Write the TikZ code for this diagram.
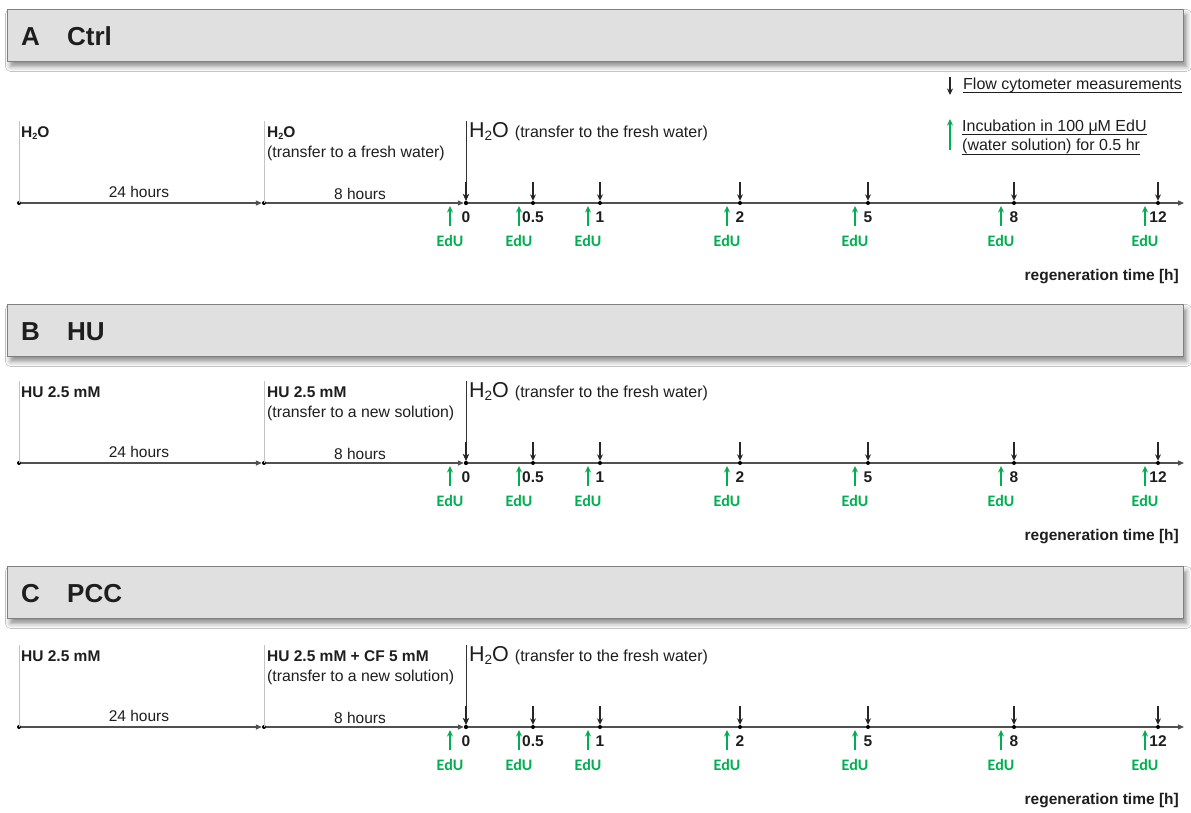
\documentclass[tikz,border=0pt]{standalone}
\usepackage{fontspec}
\setmainfont{Liberation Sans}
\newfontfamily\edufont{Carlito}
\usetikzlibrary{arrows.meta,shadows.blur}
\definecolor{edugreen}{RGB}{0,176,80}
\definecolor{hdrfill}{RGB}{224,224,224}
\definecolor{hdrline}{RGB}{128,128,128}
\definecolor{axisgray}{RGB}{80,80,80}
\definecolor{vgray}{RGB}{195,195,195}
\definecolor{txt}{RGB}{30,30,30}
\newcommand\lowtwo[1]{\raisebox{-0.3ex}{\fontsize{#1}{#1}\selectfont 2}}

\tikzset{
  header/.style={draw=hdrline, fill=hdrfill, line width=0.9pt, minimum width=1176pt, minimum height=52pt, anchor=north west, inner sep=0,
    blur shadow={shadow xshift=3pt, shadow yshift=-5pt, shadow blur radius=5pt, shadow opacity=45}},
  hdrtext/.style={font=\fontsize{26}{30}\selectfont\bfseries, text=txt, anchor=base west, inner sep=0},
  lbl/.style={font=\fontsize{15.8}{18}\selectfont, text=txt, anchor=base west, inner sep=0},
  blbl/.style={font=\fontsize{15.5}{18}\selectfont\bfseries, text=txt, anchor=base west, inner sep=0},
  leg/.style={font=\fontsize{16}{18}\selectfont, text=txt, anchor=base west, inner sep=0},
  dur/.style={font=\fontsize{15.5}{18}\selectfont, text=txt, inner sep=0},
  num/.style={font=\fontsize{15.5}{18}\selectfont\bfseries, text=txt, inner sep=0},
  edu/.style={font=\edufont\fontsize{16}{18}\selectfont\bfseries, text=edugreen, inner sep=0},
  tdot/.style={circle, fill=black, minimum size=4pt, inner sep=0},
  axisln/.style={draw=axisgray, line width=1.2pt, -{Triangle[length=6pt,width=5pt]}},
  vline/.style={draw=vgray, line width=0.8pt},
  zeroline/.style={draw=black!80, line width=0.9pt, -{Stealth[length=7pt,width=6pt]}},
  measarr/.style={draw=black!85, line width=1.2pt, -{Stealth[length=6.5pt,width=6pt]}},
  edarr/.style={draw=edugreen, line width=1.1pt, -{Stealth[length=6.5pt,width=6pt]}},
  ulin/.style={draw=txt, line width=0.9pt},
  regt/.style={font=\fontsize{15.5}{18}\selectfont\bfseries, text=txt, anchor=east, inner sep=0},
}

\newcommand\timeline[5]{%
\begin{scope}[shift={(0,#2)}]
  \node[tdot] (#1a) at (19,0) {};
  \node[tdot] (#1b) at (264,0) {};
  \node[tdot] (#1c) at (466,0) {};
  \coordinate (#1z) at (1184,0);
  \coordinate (#1lt) at (19,-82);
  \coordinate (#1mt) at (264,-82);
  \coordinate (#1rt) at (466,-82);
  \draw[vline] (#1lt) -- (#1a.center);
  \draw[vline] (#1mt) -- (#1b.center);
  \draw[axisln] (#1a) -- (#1b);
  \draw[axisln] (#1b) -- (#1c);
  \draw[axisln] (#1c) -- (#1z);
  \draw[zeroline] (#1rt) -- (#1c);
  \foreach \x/\lab/\g [count=\i] in {466/0/450, 533/0.5/519, 600/1/588, 740/2/727, 868/5/855, 1014/8/1001, 1158/12/1145}{
     \node[tdot] (#1p\i) at (\x,0) {};
     \coordinate (#1q\i) at (\x,-21);
     \draw[measarr] (#1q\i) -- (#1p\i);
     \node[num] (#1n\i) at (\x,14) {\lab};
     \node[edu] (#1e\i) at (\g,38) {EdU};
     \coordinate (#1gb\i) at (\g,23);
     \coordinate (#1gt\i) at (\g,3);
     \draw[edarr] (#1gb\i) -- (#1gt\i);
  }
  \node[blbl] (#1l1) at (21,-66) {#3};
  \node[blbl] (#1l2) at (267,-66) {#4};
  \node[lbl] (#1l3) at (267,-46) {#5};
  \node[lbl] (#1l4) at (469,-66) {{\fontsize{21.5}{24}\selectfont H\lowtwo{13.5}O}\hspace{6pt}{\fontsize{16}{18}\selectfont(transfer to the fresh water)}};
  \node[dur] (#1d1) at (139,-11) {24 hours};
  \node[dur] (#1d2) at (360,-9) {8 hours};
  \node[regt] (#1r) at (1179,74) {regeneration time [h]};
\end{scope}}

\begin{document}
\begin{tikzpicture}[x=1pt,y=-1pt]
  \fill[white] (0,0) rectangle (1191,812);
  \useasboundingbox (0,0) rectangle (1191,812);

  % headers
  \node[header] (hA) at (7,9) {};
  \node[hdrtext] (hAl) at (21,45) {A};
  \node[hdrtext] (hAt) at (67,45) {Ctrl};
  \node[header] (hB) at (7,304) {};
  \node[hdrtext] (hBl) at (21,340) {B};
  \node[hdrtext] (hBt) at (67,340) {HU};
  \node[header] (hC) at (7,566) {};
  \node[hdrtext] (hCl) at (21,602) {C};
  \node[hdrtext] (hCt) at (67,602) {PCC};

  % legend
  \coordinate (lgq) at (950,77);
  \coordinate (lgp) at (950,95);
  \draw[measarr] (lgq) -- (lgp);
  \node[leg] (lg1) at (963,89) {Flow cytometer measurements};
  \draw[ulin] ([yshift=-3pt]lg1.base west) -- ([yshift=-3pt]lg1.base east);
  \coordinate (lgb) at (950,150);
  \coordinate (lgt) at (950,119);
  \draw[edarr] (lgb) -- (lgt);
  \node[leg] (lg2) at (962,131) {Incubation in 100 μM EdU};
  \node[leg] (lg3) at (962,150) {(water solution) for 0.5 hr};
  \draw[ulin] ([yshift=-3pt]lg2.base west) -- ([yshift=-3pt]lg2.base east);
  \draw[ulin] ([yshift=-4pt]lg3.base west) -- ([yshift=-4pt]lg3.base east);

  % timelines
  \timeline{A}{203}{H\lowtwo{9}O}{H\lowtwo{9}O}{(transfer to a fresh water)}
  \timeline{B}{463}{HU 2.5 mM}{HU 2.5 mM}{(transfer to a new solution)}
  \timeline{C}{727}{HU 2.5 mM}{HU 2.5 mM + CF 5 mM}{(transfer to a new solution)}
\end{tikzpicture}
\end{document}
